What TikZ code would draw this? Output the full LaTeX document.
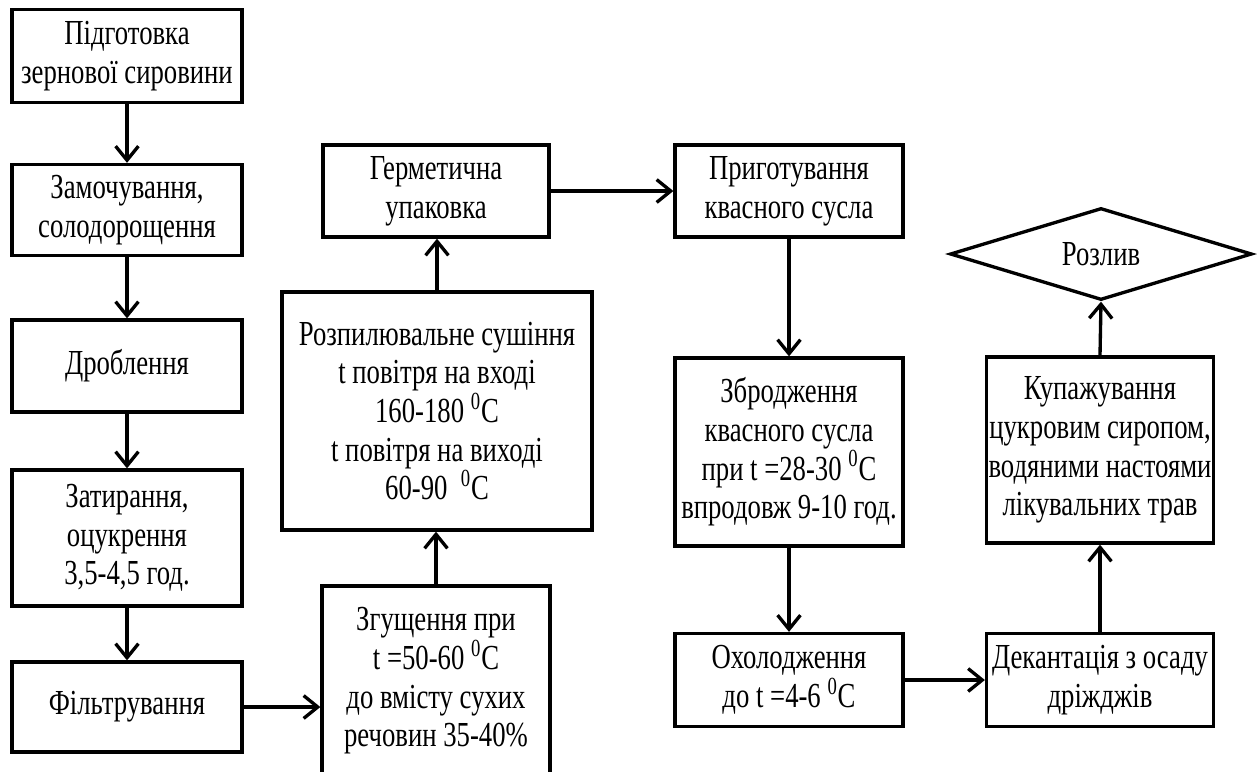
\documentclass[tikz,border=0pt]{standalone}
\usepackage{fontspec}
\setmainfont[FakeStretch=0.76]{Liberation Serif}
\usetikzlibrary{arrows.meta,shapes.geometric}

\newcommand{\degC}{\textsuperscript{0}C}

\begin{document}
\begin{tikzpicture}[x=0.02cm, y=-0.02cm,
  font=\fontsize{20}{22}\selectfont,
  block/.style={draw, line width=1.9pt, align=center, inner sep=0pt,
                minimum width=4.6cm},
  arr/.style={-{Straight Barb[length=8pt,width=13pt]}, line width=1.9pt}]
\useasboundingbox (0,0) rectangle (1257,771);

\node[block, minimum height=1.86cm] (pidg) at (127,56) {Підготовка\\зернової сировини};
\node[block, minimum height=1.82cm] (zamoch) at (127,210) {Замочування,\\солодорощення};
\node[block, minimum height=1.84cm] (drobl) at (127,366) {Дроблення};
\node[block, minimum height=2.72cm] (zatyr) at (127,538) {Затирання,\\оцукрення\\3,5-4,5 год.};
\node[block, minimum height=1.8cm] (filtr) at (127,707) {Фільтрування};

\node[block, minimum width=4.56cm, minimum height=3.8cm] (zgush) at (436,681)
  {Згущення при\\t =50-60 \degC\\до вмісту сухих\\речовин 35-40\%};
\node[block, minimum width=6.2cm, minimum height=4.76cm] (rozpyl) at (437,411)
  {Розпилювальне сушіння\\t повітря на вході\\160-180 \degC\\t повітря на виході\\60-90 \ \degC};
\node[block, minimum width=4.52cm, minimum height=1.84cm] (germ) at (436,191) {Герметична\\упаковка};

\node[block, minimum width=4.56cm, minimum height=1.84cm] (pryg) at (789,191) {Приготування\\квасного сусла};
\node[block, minimum width=4.56cm, minimum height=3.76cm] (zbrod) at (789,452)
  {Збродження\\квасного сусла\\при t =28-30 \degC\\впродовж 9-10 год.};
\node[block, minimum width=4.56cm, minimum height=1.86cm] (okhol) at (789,680) {Охолодження\\до t =4-6 \degC};

\node[block, minimum width=4.54cm, minimum height=1.86cm] (dekant) at (1100,680) {Декантація з осаду\\дріжджів};
\node[block, minimum width=4.54cm, minimum height=3.72cm] (kupazh) at (1100,450)
  {Купажування\\цукровим сиропом,\\водяними настоями\\лікувальних трав};
\node[draw, line width=1.9pt, diamond, aspect=3.3, inner sep=0pt,
      minimum width=6.04cm, minimum height=1.84cm] (rozlyv) at (1101,254) {Розлив};

\draw[arr] (pidg) -- (zamoch);
\draw[arr] (zamoch) -- (drobl);
\draw[arr] (drobl) -- (zatyr);
\draw[arr] (zatyr) -- (filtr);
\draw[arr] (filtr.east) -- (filtr.east -| zgush.west);
\draw[arr] (zgush.north) -- (zgush.north |- rozpyl.south);
\draw[arr] (rozpyl.north) -- (rozpyl.north |- germ.south);
\draw[arr] (germ.east) -- (pryg.west);
\draw[arr] (pryg) -- (zbrod);
\draw[arr] (zbrod) -- (okhol);
\draw[arr] (okhol.east) -- (dekant.west);
\draw[arr] (dekant) -- (kupazh);
\draw[arr] (kupazh.north) -- (rozlyv.south);
\end{tikzpicture}
\end{document}
